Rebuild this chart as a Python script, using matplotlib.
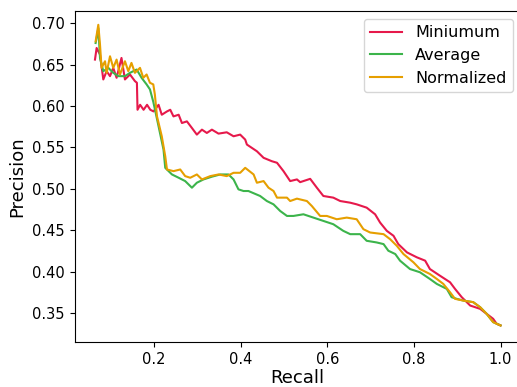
import matplotlib
matplotlib.use("Agg")
import matplotlib.pyplot as plt

# recall / precision values
min_recall = [0.0638, 0.0676, 0.0754, 0.083, 0.0907, 0.0985, 0.106, 0.1137, 0.125, 0.133,
              0.1446, 0.156, 0.1606, 0.162, 0.168, 0.176, 0.184, 0.1915, 0.199, 0.2106,
              0.218, 0.230, 0.2376, 0.245, 0.257, 0.2645, 0.276, 0.2876, 0.299, 0.3107,
              0.322, 0.3337, 0.349, 0.368, 0.3837, 0.399, 0.4106, 0.4145, 0.4376, 0.453,
              0.472, 0.484, 0.499, 0.5144, 0.530, 0.5375, 0.5606, 0.576, 0.591, 0.614,
              0.630, 0.653, 0.668, 0.691, 0.7105, 0.722, 0.7375, 0.753, 0.764, 0.784,
              0.807, 0.826, 0.837, 0.860, 0.8835, 0.895, 0.9105, 0.930, 0.953, 0.968,
              0.983, 0.991, 1.0]
min_precision = [0.656, 0.670, 0.662, 0.632, 0.642, 0.636, 0.646, 0.634, 0.658, 0.632,
                 0.638, 0.630, 0.628, 0.5954, 0.6014, 0.5954, 0.6014, 0.5954, 0.5934, 0.6014,
                 0.5894, 0.5934, 0.5954, 0.5874, 0.5894, 0.5794, 0.5814, 0.5734, 0.5654, 0.5714,
                 0.5674, 0.5714, 0.5666, 0.5682, 0.5634, 0.5654, 0.5594, 0.5534, 0.5453, 0.5374,
                 0.5333, 0.5314, 0.5213, 0.5093, 0.5113, 0.508, 0.512, 0.5013, 0.4913, 0.4893,
                 0.4852, 0.4832, 0.4812, 0.4772, 0.4692, 0.4592, 0.4492, 0.4432, 0.4332, 0.4232,
                 0.4172, 0.4132, 0.4031, 0.3951, 0.3871, 0.3791, 0.3691, 0.3590, 0.3550, 0.3490,
                 0.3430, 0.3370, 0.335]

avg_recall = [0.0653, 0.0676, 0.0715, 0.0754, 0.083, 0.0946, 0.106, 0.1176, 0.133, 0.1446,
              0.160, 0.1714, 0.183, 0.1907, 0.1984, 0.2106, 0.222, 0.226, 0.2415, 0.257,
              0.272, 0.2876, 0.299, 0.3144, 0.3337, 0.353, 0.372, 0.3837, 0.395, 0.4067,
              0.418, 0.445, 0.4606, 0.476, 0.4913, 0.507, 0.522, 0.545, 0.568, 0.591,
              0.614, 0.637, 0.653, 0.676, 0.691, 0.714, 0.730, 0.741, 0.757, 0.768,
              0.791, 0.814, 0.837, 0.853, 0.876, 0.887, 0.899, 0.914, 0.937, 0.953,
              0.968, 0.983, 1.0]
avg_precision = [0.676, 0.682, 0.694, 0.658, 0.642, 0.646, 0.640, 0.636, 0.636, 0.640,
                 0.644, 0.634, 0.626, 0.620, 0.605, 0.5754, 0.5473, 0.5253, 0.5173, 0.5133,
                 0.5093, 0.5013, 0.5073, 0.5113, 0.5146, 0.5173, 0.5173, 0.5113, 0.4993, 0.4973,
                 0.4973, 0.4913, 0.4852, 0.4812, 0.4732, 0.4672, 0.4672, 0.4692, 0.4652, 0.4612,
                 0.4572, 0.4492, 0.4452, 0.4452, 0.4372, 0.4352, 0.4332, 0.4252, 0.4212, 0.4132,
                 0.4031, 0.3992, 0.3911, 0.3851, 0.3791, 0.3691, 0.3671, 0.3650, 0.3631, 0.3570,
                 0.3490, 0.3390, 0.335]

norm_recall = [0.0653, 0.0715, 0.0754, 0.079, 0.087, 0.0907, 0.0985, 0.106, 0.1137, 0.1215,
               0.133, 0.1407, 0.148, 0.156, 0.1677, 0.1753, 0.183, 0.1907, 0.1984, 0.202,
               0.207, 0.218, 0.226, 0.230, 0.245, 0.2606, 0.272, 0.2837, 0.299, 0.3107,
               0.330, 0.349, 0.368, 0.3837, 0.399, 0.4106, 0.430, 0.4376, 0.453, 0.4644,
               0.476, 0.484, 0.507, 0.5144, 0.530, 0.553, 0.5644, 0.5836, 0.599, 0.622,
               0.645, 0.668, 0.6835, 0.699, 0.730, 0.745, 0.7606, 0.776, 0.799, 0.814,
               0.837, 0.853, 0.868, 0.8835, 0.895, 0.914, 0.937, 0.953, 0.968, 0.983,
               1.0]
norm_precision = [0.678, 0.698, 0.674, 0.646, 0.654, 0.640, 0.660, 0.646, 0.656, 0.638,
                  0.654, 0.642, 0.652, 0.640, 0.646, 0.634, 0.638, 0.628, 0.626, 0.614,
                  0.5874, 0.5634, 0.5393, 0.5233, 0.5213, 0.5233, 0.5153, 0.5133, 0.5173, 0.5113,
                  0.5153, 0.5173, 0.5153, 0.5193, 0.5193, 0.5253, 0.5173, 0.5073, 0.5093, 0.5013,
                  0.4973, 0.4893, 0.4893, 0.4852, 0.4881, 0.4852, 0.4792, 0.4672, 0.4672, 0.4632,
                  0.4652, 0.4632, 0.4512, 0.4472, 0.4452, 0.4392, 0.4311, 0.4212, 0.4112, 0.4031,
                  0.3971, 0.3911, 0.3851, 0.3751, 0.3671, 0.3650, 0.3631, 0.3570, 0.3490, 0.3390,
                  0.335]

fig = plt.figure(figsize=(5.17, 3.87), dpi=100)
# right spine sits just past the image edge in the reference
ax = fig.add_axes([0.1445, 0.1163, 0.863, 0.856])

ax.plot(min_recall, min_precision, color='#E6194B', lw=1.5, label='Miniumum')
ax.plot(avg_recall, avg_precision, color='#3CB44B', lw=1.5, label='Average')
ax.plot(norm_recall, norm_precision, color='#E69F00', lw=1.5, label='Normalized')

ax.set_xlim(0.017, 1.047)
ax.set_ylim(0.315, 0.715)
ax.set_xticks([0.2, 0.4, 0.6, 0.8, 1.0])
ax.set_yticks([0.35, 0.40, 0.45, 0.50, 0.55, 0.60, 0.65, 0.70])
ax.tick_params(labelsize=10.5)
ax.set_xlabel('Recall', fontsize=13, labelpad=2)
ax.set_ylabel('Precision', fontsize=13)
ax.legend(loc='upper right', fontsize=11.5)

fig.savefig('out.png', dpi=100)
